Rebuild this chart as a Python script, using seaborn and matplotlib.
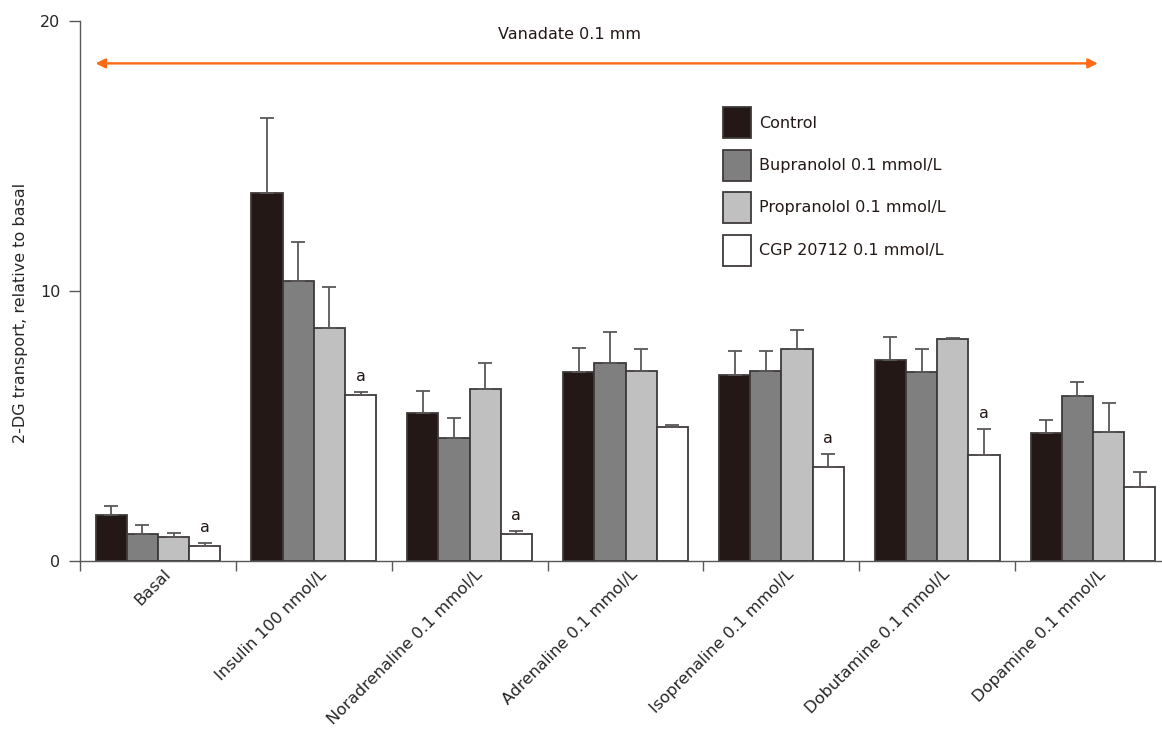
"""2-DG transport under vanadate: grouped bars with upper SEM bars."""

import matplotlib

matplotlib.use("Agg")

import matplotlib.pyplot as plt
import matplotlib.transforms as mtransforms
import numpy as np
import pandas as pd
import seaborn as sns

STIMULI = [
    "Basal",
    "Insulin 100 nmol/L",
    "Noradrenaline 0.1 mmol/L",
    "Adrenaline 0.1 mmol/L",
    "Isoprenaline 0.1 mmol/L",
    "Dobutamine 0.1 mmol/L",
    "Dopamine 0.1 mmol/L",
]
TREATMENTS = [
    "Control",
    "Bupranolol 0.1 mmol/L",
    "Propranolol 0.1 mmol/L",
    "CGP 20712 0.1 mmol/L",
]

# mean values, one list per treatment (order follows STIMULI)
control = [1.71, 13.62, 5.49, 7.00, 6.88, 7.44, 4.73]
bupranolol = [1.00, 10.37, 4.54, 7.34, 7.04, 7.00, 6.12]
propranolol = [0.89, 8.62, 6.38, 7.04, 7.85, 8.22, 4.78]
cgp = [0.56, 6.14, 1.01, 4.95, 3.47, 3.92, 2.75]

# upper error (SEM)
control_err = [0.32, 2.78, 0.80, 0.90, 0.91, 0.84, 0.49]
bupranolol_err = [0.33, 1.45, 0.76, 1.13, 0.75, 0.86, 0.52]
propranolol_err = [0.16, 1.52, 0.97, 0.81, 0.72, 0.04, 1.07]
cgp_err = [0.10, 0.12, 0.09, 0.10, 0.50, 0.97, 0.53]

# "a" marks (significance) on the CGP bars
cgp_sig = [True, True, True, False, True, True, False]

COLORS = ["#231815", "#7f7f7f", "#bfc0bf", "#ffffff"]
EDGE = "#3e3a39"
ERR_COLOR = "#5a5757"
ARROW_COLOR = "#ff6a13"
FS = 11.5


def main() -> None:
    sns.set_style("ticks")
    plt.rcParams["font.family"] = ["DejaVu Sans"]
    plt.rcParams["text.color"] = "#231815"

    means = [control, bupranolol, propranolol, cgp]
    errs = [control_err, bupranolol_err, propranolol_err, cgp_err]

    df = pd.DataFrame(
        {
            "stimulus": np.tile(STIMULI, len(TREATMENTS)),
            "treatment": np.repeat(TREATMENTS, len(STIMULI)),
            "value": np.concatenate(means),
        }
    )

    fig = plt.figure(figsize=(11.62, 7.29), dpi=100)
    ax = fig.add_axes([80 / 1162, 168 / 729, 1091 / 1162, 540 / 729])

    sns.barplot(
        data=df,
        x="stimulus",
        y="value",
        hue="treatment",
        order=STIMULI,
        hue_order=TREATMENTS,
        palette=COLORS,
        saturation=1,
        edgecolor=EDGE,
        linewidth=1.3,
        errorbar=None,
        width=0.8,
        ax=ax,
    )

    # upper-only error bars, drawn at the centre of each bar
    for container, m, e in zip(ax.containers, means, errs):
        xs = [p.get_x() + p.get_width() / 2 for p in container.patches]
        ax.errorbar(
            xs,
            m,
            yerr=[np.zeros(len(e)), e],
            fmt="none",
            ecolor=ERR_COLOR,
            elinewidth=1.3,
            capsize=5,
            capthick=1.3,
            zorder=1,
        )

    cgp_bars = ax.containers[3].patches
    for bar, m, e, sig in zip(cgp_bars, cgp, cgp_err, cgp_sig):
        if sig:
            ax.text(
                bar.get_x() + bar.get_width() / 2,
                m + e + 0.3,
                "a",
                ha="center",
                va="bottom",
                fontsize=FS,
            )

    # vanadate arrow across the whole plot
    ax.annotate(
        "",
        xy=(6.03, 18.43),
        xytext=(-0.40, 18.43),
        arrowprops=dict(
            arrowstyle="<|-|>", color=ARROW_COLOR, lw=1.7, mutation_scale=14,
            shrinkA=0, shrinkB=0,
        ),
    )
    ax.text(2.64, 19.5, "Vanadate 0.1 mm", ha="center", va="center", fontsize=FS)

    ax.set_xlim(-0.5, 6.5)
    ax.set_ylim(0, 20)
    ax.set_yticks([0, 10, 20])
    ax.set_xlabel("")
    ax.set_ylabel("2-DG transport, relative to basal", fontsize=FS)
    ax.yaxis.set_label_coords(-0.048, 0.46)

    ax.set_xticks(range(len(STIMULI)))
    ax.set_xticklabels(STIMULI, rotation=45, ha="right", rotation_mode="anchor")
    ax.set_xticks(np.arange(-0.5, len(STIMULI), 1.0), minor=True)
    ax.tick_params(axis="x", which="major", length=0, pad=4, labelsize=11.7)
    ax.tick_params(axis="x", which="minor", length=7, width=1, color="#595757")
    ax.tick_params(axis="y", length=8, width=1, color="#595757", labelsize=FS, pad=6)

    # nudge the rotated labels a few pixels right, as in the original
    shift = mtransforms.ScaledTranslation(5 / 100, 0, fig.dpi_scale_trans)
    for lab in ax.get_xticklabels():
        lab.set_transform(lab.get_transform() + shift)

    sns.despine(ax=ax)
    for side in ("left", "bottom"):
        ax.spines[side].set_color("#595757")
        ax.spines[side].set_linewidth(1)

    handles, labels = ax.get_legend_handles_labels()
    ax.legend(
        handles,
        labels,
        loc="upper left",
        bbox_to_anchor=(0.589, 0.84),
        frameon=False,
        fontsize=FS,
        handlelength=1.8,
        handleheight=2.6,
        handletextpad=0.5,
        labelspacing=0.72,
        borderpad=0,
        borderaxespad=0,
    )

    fig.savefig("out.png", dpi=100)
    plt.close(fig)


if __name__ == "__main__":
    main()
